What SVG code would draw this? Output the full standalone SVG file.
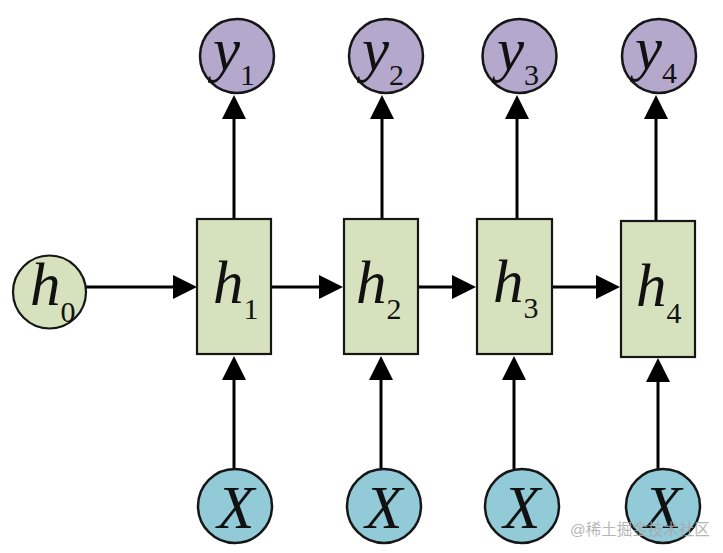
<svg xmlns="http://www.w3.org/2000/svg" width="723" height="553" viewBox="0 0 723 553">
<style>
.y{fill:#b4a8cd;stroke:#161616;stroke-width:2.5}
.h{fill:#d6e1bd;stroke:#161616;stroke-width:2.2}
.x{fill:#92cad8;stroke:#161616;stroke-width:2.5}
.lbl{font-family:"Liberation Serif","Times New Roman",serif;font-style:italic;font-size:61px;fill:#111}
.sub{font-family:"Liberation Serif","Times New Roman",serif;font-style:normal;font-size:30px}
.c{stroke:#000;stroke-width:3;fill:none;marker-end:url(#ah)}
.wm{font-family:"Liberation Sans","Noto Sans CJK SC",sans-serif;font-size:15.5px;fill:#a8a8a8;fill-opacity:0.85}
</style>
<defs>
<marker id="ah" viewBox="0 0 24 24" markerWidth="24" markerHeight="24" markerUnits="userSpaceOnUse" refX="4" refY="12" orient="auto">
<path d="M0,0 L24,12 L0,24 z" fill="#000"/>
</marker>
</defs>
<g id="connectors">
<line class="c" x1="86" y1="287" x2="177" y2="287"/>
<line class="c" x1="271" y1="287" x2="323" y2="287"/>
<line class="c" x1="418" y1="287" x2="456" y2="287"/>
<line class="c" x1="552" y1="287" x2="600" y2="287"/>
<line class="c" x1="234" y1="219" x2="234" y2="115"/>
<line class="c" x1="382" y1="219" x2="382" y2="115"/>
<line class="c" x1="517" y1="219" x2="517" y2="115"/>
<line class="c" x1="656" y1="221" x2="656" y2="115"/>
<line class="c" x1="234" y1="469" x2="234" y2="376"/>
<line class="c" x1="381" y1="469" x2="381" y2="376"/>
<line class="c" x1="514" y1="469" x2="514" y2="376"/>
<line class="c" x1="658" y1="469" x2="658" y2="378"/>
</g>
<g id="h0"><circle class="h" cx="49.5" cy="292" r="36.5"/><text class="lbl" x="30" y="305">h<tspan class="sub" dy="17">0</tspan></text></g>
<g id="h1"><rect class="h" x="197" y="219" width="74" height="135"/><text class="lbl" x="213" y="303">h<tspan class="sub" dy="16">1</tspan></text></g>
<g id="h2"><rect class="h" x="344" y="219" width="74" height="135"/><text class="lbl" x="356" y="303">h<tspan class="sub" dy="16">2</tspan></text></g>
<g id="h3"><rect class="h" x="477" y="219" width="75" height="135"/><text class="lbl" x="493" y="302">h<tspan class="sub" dy="16">3</tspan></text></g>
<g id="h4"><rect class="h" x="621" y="221" width="74" height="136"/><text class="lbl" x="636" y="306">h<tspan class="sub" dy="17">4</tspan></text></g>
<g id="y1"><circle class="y" cx="237" cy="56" r="37"/><text class="lbl" x="213" y="70">y<tspan class="sub" dy="15">1</tspan></text></g>
<g id="y2"><circle class="y" cx="386" cy="56" r="37"/><text class="lbl" x="362" y="70">y<tspan class="sub" dy="15">2</tspan></text></g>
<g id="y3"><circle class="y" cx="519.5" cy="56" r="37"/><text class="lbl" x="497" y="70">y<tspan class="sub" dy="15">3</tspan></text></g>
<g id="y4"><circle class="y" cx="659" cy="56" r="37"/><text class="lbl" x="635" y="69">y<tspan class="sub" dy="14">4</tspan></text></g>
<g id="x1"><circle class="x" cx="235" cy="506" r="37"/><text class="lbl" x="236" y="528" text-anchor="middle">X</text></g>
<g id="x2"><circle class="x" cx="384" cy="506" r="37"/><text class="lbl" x="384" y="528" text-anchor="middle">X</text></g>
<g id="x3"><circle class="x" cx="522" cy="506" r="37"/><text class="lbl" x="522" y="528" text-anchor="middle">X</text></g>
<g id="x4"><circle class="x" cx="663" cy="506" r="37"/><text class="lbl" x="663" y="528" text-anchor="middle">X</text></g>
<text class="wm" x="570" y="535">@稀土掘金技术社区</text>
</svg>
